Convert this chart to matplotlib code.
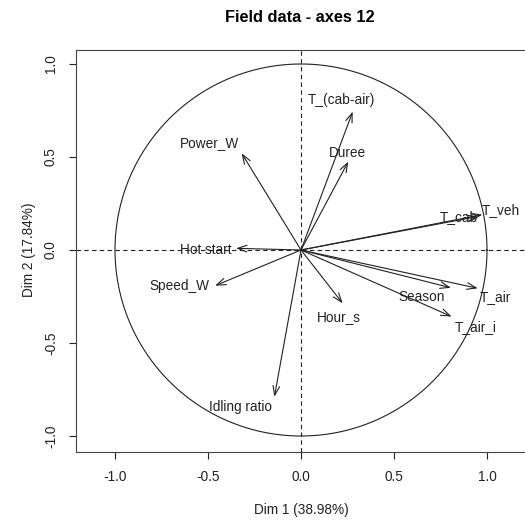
import numpy as np
import matplotlib
matplotlib.use("Agg")
import matplotlib.pyplot as plt

# Data: PCA variable coordinates (Dim 1, Dim 2)
variables = ["T_(cab-air)", "Duree", "Power_W", "Hot start", "Speed_W", "Hour_s",
             "Idling ratio", "T_veh", "T_cab", "Season", "T_air", "T_air_i"]
dim1 = [0.278, 0.254, -0.319, -0.349, -0.462, 0.224, -0.143, 0.975, 0.950, 0.806, 0.950, 0.810]
dim2 = [0.744, 0.475, 0.520, 0.009, -0.192, -0.287, -0.789, 0.190, 0.180, -0.203, -0.206, -0.358]
title = "Field data - axes 12"
xlabel = "Dim 1 (38.98%)"
ylabel = "Dim 2 (17.84%)"
xticks = [-1.0, -0.5, 0.0, 0.5, 1.0]
yticks = [-1.0, -0.5, 0.0, 0.5, 1.0]

# label offsets (in data units) relative to arrow tips -- layout only
label_dx = [-0.063, -0.005, -0.175, -0.165, -0.19, -0.02, -0.18, 0.097, -0.10, -0.16, 0.093, 0.13]
label_dy = [0.060, 0.044, 0.057, -0.010, -0.004, -0.073, -0.055, 0.025, -0.005, -0.050, -0.047, -0.056]

plt.rcParams['font.family'] = ['Liberation Sans', 'DejaVu Sans']
W, H = 525, 522
fig = plt.figure(figsize=(W / 100, H / 100), dpi=100)
ax = fig.add_axes([76 / W, (H - 452) / H, (W - 76) / W, (452 - 49.5) / H])
ax.set_xlim((76 - 301) / 186, (525 - 301) / 186)
ax.set_ylim(-(452 - 250) / 186, (250 - 49.5) / 186)

fs = 9.8
col = "#222222"
# circle
t = np.linspace(0, 2 * np.pi, 400)
ax.plot(np.cos(t), np.sin(t), color=col, lw=0.8)
# dashed axes
ax.axhline(0, color=col, lw=0.8, ls=(0, (4, 3)))
ax.axvline(0, color=col, lw=0.8, ls=(0, (4, 3)))

for name, x, y, dx, dy in zip(variables, dim1, dim2, label_dx, label_dy):
    ax.annotate("", xy=(x, y), xytext=(0, 0),
                arrowprops=dict(arrowstyle="->,head_length=0.55,head_width=0.2",
                                color=col, lw=0.8, shrinkA=0, shrinkB=0,
                                mutation_scale=12))
    ax.text(x + dx, y + dy, name, ha="center", va="center", fontsize=fs, color=col)

ax.set_xticks(xticks)
ax.set_yticks(yticks)
ax.set_xticklabels([f"{v:.1f}" for v in xticks], fontsize=fs, color=col)
ax.set_yticklabels([f"{v:.1f}" for v in yticks], fontsize=fs, color=col,
                   rotation=90, va="center")
ax.tick_params(direction="out", length=5, width=0.8, colors=col, pad=8)
ax.spines['right'].set_visible(False)
for s in ['left', 'bottom', 'top']:
    ax.spines[s].set_linewidth(0.8)
    ax.spines[s].set_color("#444444")

fig.text(300 / W, 1 - 18 / H, title, ha="center", va="center",
         fontsize=11.8, fontweight="bold")
fig.text(301 / W, 1 - 510 / H, xlabel, ha="center", va="center", fontsize=fs, color=col)
fig.text(29 / W, 1 - 250 / H, ylabel, ha="center", va="center", fontsize=fs,
         rotation=90, color=col)

fig.savefig("out.png", dpi=100)
